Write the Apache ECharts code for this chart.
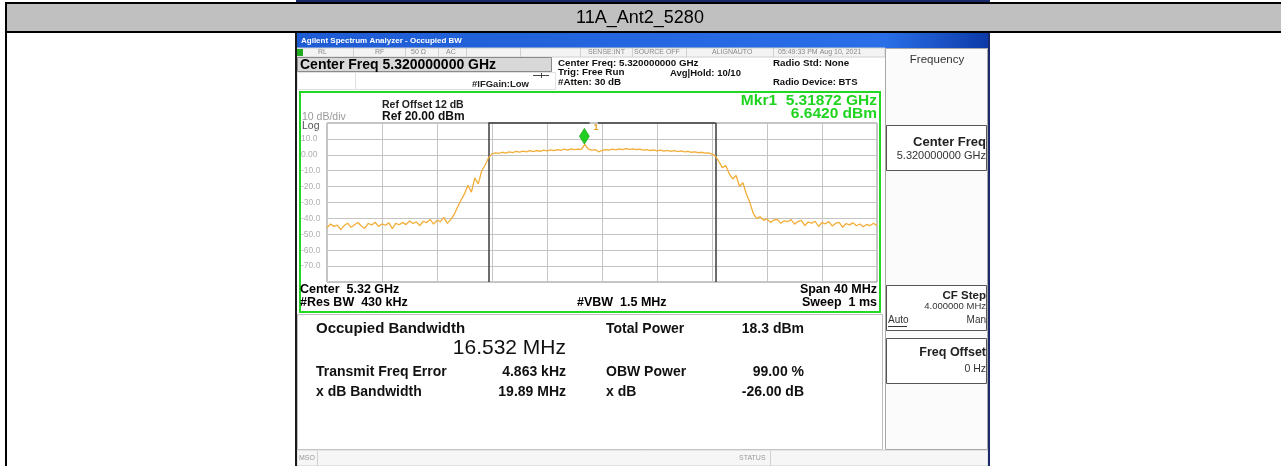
<!DOCTYPE html>
<html><head><meta charset="utf-8">
<script src="https://cdn.jsdelivr.net/npm/echarts@6/dist/echarts.min.js"></script>
<style>html,body{margin:0;padding:0;background:#fff}#c{width:1281px;height:466px}</style>
</head><body><div id="c"></div>
<script>
// ---------- data ----------
const pageTitle = '11A_Ant2_5280';
const sweepStartMHz = 5300;
const sweepStopMHz = 5340;
const sweepStepMHz = 0.25;
const gridStepMHz = 4;
const refLevelDbm = 20;
const bottomLevelDbm = -80;
const dbPerDiv = 10;
// trace, one value per 0.25 MHz (rows of 2 MHz)
const traceDbm = [
  -46.0,-43.5,-45.0,-44.2,-47.1,-44.5,-43.0,-45.6,
  -44.0,-42.6,-44.8,-46.3,-43.2,-44.1,-42.4,-45.0,
  -43.5,-44.3,-42.8,-46.5,-43.1,-44.0,-42.5,-43.9,
  -41.6,-43.2,-42.2,-44.6,-41.8,-42.7,-40.6,-43.6,
  -41.3,-42.0,-39.4,-43.1,-40.8,-37.5,-32.8,-28.4,
  -24.6,-19.2,-23.5,-14.6,-18.3,-10.2,-6.4,-1.8,
  0.6,1.2,0.9,1.6,1.1,1.9,1.4,2.1,
  1.7,2.3,1.8,2.6,2.0,2.7,2.2,2.9,
  2.4,3.1,2.6,3.3,2.8,3.5,3.0,3.7,
  3.2,3.6,3.4,6.6,3.5,2.9,3.3,1.9,
  2.7,3.2,2.9,3.5,3.1,3.7,3.3,3.9,
  3.4,3.7,3.2,3.6,3.0,3.3,2.7,3.1,
  2.5,2.9,2.3,2.8,2.2,2.6,2.0,2.4,
  1.8,2.2,1.6,1.9,1.3,1.6,1.0,1.2,
  0.4,-0.8,-4.2,-8.1,-6.8,-11.9,-15.2,-13.0,
  -19.8,-17.6,-24.7,-29.9,-36.8,-40.1,-38.9,-41.2,
  -40.3,-42.5,-41.0,-40.6,-43.1,-41.5,-42.1,-40.8,
  -43.6,-42.0,-41.3,-44.5,-42.3,-43.0,-41.8,-45.1,
  -42.6,-43.4,-42.0,-44.8,-43.0,-42.5,-45.6,-43.2,
  -44.1,-42.8,-44.6,-43.5,-45.3,-43.8,-44.5,-43.0,
  -44.6
];
const obwEdgesMHz = [5311.734, 5328.266];
const obwTopGapMHz = [5319.1, 5319.7];
const markerFreqMHz = 5318.72;
const markerLevelDbm = 6.642;

const headerTexts = {
  window: 'Agilent Spectrum Analyzer - Occupied BW',
  status: ['RL','RF','50 Ω','AC','SENSE:INT','SOURCE OFF','ALIGNAUTO','05:49:33 PM Aug 10, 2021'],
  activeFn: 'Center Freq 5.320000000 GHz',
  ifGain: '#IFGain:Low',
  col1: ['Center Freq: 5.320000000 GHz','Trig: Free Run','#Atten: 30 dB'],
  avgHold: 'Avg|Hold: 10/10',
  radio: ['Radio Std: None','Radio Device: BTS']
};
const plotTexts = {
  refOffset: 'Ref Offset 12 dB', ref: 'Ref 20.00 dBm', scale: '10 dB/div', log: 'Log',
  mkr1: 'Mkr1  5.31872 GHz', mkr2: '6.6420 dBm',
  center: 'Center  5.32 GHz', rbw: '#Res BW  430 kHz', vbw: '#VBW  1.5 MHz',
  span: 'Span 40 MHz', sweep: 'Sweep  1 ms'
};
const resultLabels = ['Occupied Bandwidth','Total Power','Transmit Freq Error','OBW Power','x dB Bandwidth','x dB'];
const resultValues = ['16.532 MHz','18.3 dBm','4.863 kHz','99.00 %','19.89 MHz','-26.00 dB'];
const softKeys = {
  title: 'Frequency',
  k1: ['Center Freq','5.320000000 GHz'],
  k2: ['CF Step','4.000000 MHz','Auto','Man'],
  k3: ['Freq Offset','0 Hz']
};

// ---------- drawing ----------
const chart = echarts.init(document.getElementById('c'), null, {renderer:'canvas', width:1281, height:466});
const FONT = '"Liberation Sans", Arial, Helvetica, sans-serif';
const G = [];
function rect(x,y,w,h,fill,stroke,lw,z){G.push({type:'rect',silent:true,z:(z===undefined?-5:z),shape:{x:x,y:y,width:w,height:h},style:{fill:fill||'transparent',stroke:stroke||'transparent',lineWidth:lw||1}});}
function line(x1,y1,x2,y2,stroke,lw,z){G.push({type:'line',silent:true,z:(z===undefined?-4:z),shape:{x1:x1,y1:y1,x2:x2,y2:y2},style:{stroke:stroke,lineWidth:lw||1}});}
function text(t,x,y,size,o){o=o||{};G.push({type:'text',silent:true,z:50,style:{text:t,x:x,y:y,font:(o.bold?'bold ':'')+size+'px '+FONT,fill:o.color||'#000',textAlign:o.align||'left',textVerticalAlign:'middle'}});}

// page table frame
rect(0,0,1281,466,'#ffffff',null,1,-10);
rect(296,0,694,2,'#1b2a6b');
rect(5,2,1276,2,'#000');
rect(7,4,1274,27,'#c0c0c0');
rect(5,31,1276,2,'#000');
rect(5,2,2,464,'#000');
text(pageTitle,640,18,18,{align:'center'});

// screenshot window
rect(296,33,694,433,'#ffffff');
rect(295,33,2,433,'#1a1a1a',null,1,-3);
rect(988,33,2,433,'#1b2a6b',null,1,-3);
rect(297,33,691,15,new echarts.graphic.LinearGradient(0,0,1,0,[{offset:0,color:'#1d5bd4'},{offset:0.85,color:'#2a6fe8'},{offset:1,color:'#0d3aa8'}]));
text(headerTexts.window,301,41,8,{bold:true,color:'#ffffff'});
// status row
rect(297,48,588,9,'#f3f3f3','#d0d0d0',1);
rect(297,49,6,7,'#22aa22');
const stX = [318,375,411,446,588,634,712,778];
headerTexts.status.forEach((s,i)=>text(s,stX[i],52.5,7,{color:'#8a8a8a'}));
[353,405,438,466,520,580,632,686,773].forEach(x=>line(x+0.5,48,x+0.5,57,'#d0d0d0',1));
// active function box
rect(297.5,57.5,254,14,'#d8d8d8','#8a8a8a',1);
text(headerTexts.activeFn,300,65,14,{bold:true});
rect(297.5,72.5,258,17,'transparent','#e0e0e0',1);
line(355.5,72,355.5,90,'#e0e0e0',1);
line(533,75.5,549,75.5,'#444',1); line(541.5,73,541.5,78,'#444',1);
text(headerTexts.ifGain,472,84,9.5,{bold:true,color:'#222'});
text(headerTexts.col1[0],558,63,9.8,{bold:true,color:'#111'});
text(headerTexts.col1[1],558,72.7,9.8,{bold:true,color:'#111'});
text(headerTexts.col1[2],558,82.7,9.8,{bold:true,color:'#111'});
text(headerTexts.avgHold,670,73,9.5,{bold:true,color:'#111'});
text(headerTexts.radio[0],773,63,9.8,{bold:true,color:'#111'});
text(headerTexts.radio[1],773,82.7,9.5,{bold:true,color:'#111'});

// green measurement box
rect(300,92,580,220,'transparent','#22d822',2,-3);
text(plotTexts.refOffset,382,105,10.5,{bold:true,color:'#222'});
text(plotTexts.ref,382,116.5,12,{bold:true,color:'#111'});
text(plotTexts.scale,302,117,10.5,{color:'#9a9a9a'});
text(plotTexts.log,302,126,10.5,{color:'#555'});
text(plotTexts.mkr1,877,101,15.5,{bold:true,color:'#1fd41f',align:'right'});
text(plotTexts.mkr2,877,113.5,15.5,{bold:true,color:'#1fd41f',align:'right'});
text(plotTexts.center,300,290,12.5,{bold:true});
text(plotTexts.rbw,300,303,12.5,{bold:true});
text(plotTexts.vbw,577,303,12.5,{bold:true});
text(plotTexts.span,877,290,12.5,{bold:true,align:'right'});
text(plotTexts.sweep,877,303,12.5,{bold:true,align:'right'});

// results panel
rect(297.5,314.5,585,135,'#ffffff','#bdbdbd',1);
text(resultLabels[0],316,329,15,{bold:true,color:'#111'});
text(resultValues[0],566,348,21,{color:'#111',align:'right'});
text(resultLabels[1],606,329,14,{bold:true,color:'#111'});
text(resultValues[1],804,329,14,{bold:true,color:'#111',align:'right'});
text(resultLabels[2],316,372.5,14,{bold:true,color:'#111'});
text(resultValues[2],566,372.5,14,{bold:true,color:'#111',align:'right'});
text(resultLabels[3],606,372.5,14,{bold:true,color:'#111'});
text(resultValues[3],804,372.5,14,{bold:true,color:'#111',align:'right'});
text(resultLabels[4],316,392,14,{bold:true,color:'#111'});
text(resultValues[4],566,392,14,{bold:true,color:'#111',align:'right'});
text(resultLabels[5],606,392,14,{bold:true,color:'#111'});
text(resultValues[5],804,392,14,{bold:true,color:'#111',align:'right'});

// bottom status bar
rect(297,450,691,16,'#f6f6f6','#cfcfcf',1);
text('MSO',299,458,7,{color:'#999'});
line(317.5,451,317.5,466,'#cfcfcf',1);
text('STATUS',739,458,7,{color:'#999'});
line(770.5,451,770.5,466,'#cfcfcf',1);

// soft key panel
rect(885.5,48.5,102,401,'#fbfbfb','#a8a8a8',1);
text(softKeys.title,937,60,11.5,{color:'#333',align:'center'});
rect(886.5,125.5,100,45,'#ffffff','#555',1);
text(softKeys.k1[0],986,142,13,{bold:true,color:'#222',align:'right'});
text(softKeys.k1[1],986,156,11,{color:'#333',align:'right'});
rect(886.5,285.5,100,45,'#ffffff','#555',1);
text(softKeys.k2[0],986,296,11.5,{bold:true,color:'#222',align:'right'});
text(softKeys.k2[1],986,306,9.5,{color:'#333',align:'right'});
text(softKeys.k2[2],888,320.5,10,{color:'#333'});
line(888,326.5,907,326.5,'#333',1,40);
text(softKeys.k2[3],986,320.5,10,{color:'#333',align:'right'});
rect(886.5,338.5,100,45,'#ffffff','#555',1);
text(softKeys.k3[0],986,353,12.5,{bold:true,color:'#222',align:'right'});
text(softKeys.k3[1],986,369,10.5,{color:'#333',align:'right'});

const traceData = traceDbm.map((v,i)=>[sweepStartMHz + i*sweepStepMHz, v]);
const obwLine = {color:'#3c3c3c', width:1.5, type:'solid'};

chart.setOption({
  animation:false,
  backgroundColor:'#ffffff',
  graphic:{elements:G},
  grid:{left:327, top:123, width:550, height:159, show:true, borderColor:'#8c8c8c', borderWidth:1, backgroundColor:'transparent'},
  xAxis:{type:'value', min:sweepStartMHz, max:sweepStopMHz, interval:gridStepMHz,
    axisLine:{show:false}, axisTick:{show:false}, axisLabel:{show:false},
    splitLine:{show:true, lineStyle:{color:'#c4c4c4', width:1}}},
  yAxis:{type:'value', min:bottomLevelDbm, max:refLevelDbm, interval:dbPerDiv,
    axisLine:{show:false}, axisTick:{show:false},
    axisLabel:{show:true, align:'left', margin:26, fontSize:8.5, color:'#b0b0b0', fontFamily:FONT,
      formatter:v=> (v===refLevelDbm||v===bottomLevelDbm)?'':(v===0?'0.00':v.toFixed(1))},
    splitLine:{show:true, lineStyle:{color:'#c4c4c4', width:1}}},
  series:[{
    type:'line', data:traceData, showSymbol:false, symbol:'none',
    lineStyle:{color:'#f2ae38', width:1.3}, z:5,
    markLine:{silent:true, symbol:'none', label:{show:false}, lineStyle:obwLine, animation:false,
      data:[
        [{coord:[obwEdgesMHz[0],bottomLevelDbm]},{coord:[obwEdgesMHz[0],refLevelDbm]}],
        [{coord:[obwEdgesMHz[1],bottomLevelDbm]},{coord:[obwEdgesMHz[1],refLevelDbm]}],
        [{coord:[obwEdgesMHz[0],refLevelDbm]},{coord:[obwTopGapMHz[0],refLevelDbm]}],
        [{coord:[obwTopGapMHz[1],refLevelDbm]},{coord:[obwEdgesMHz[1],refLevelDbm]}]
      ]},
    markPoint:{silent:true, animation:false, data:[{
      coord:[markerFreqMHz, markerLevelDbm], symbol:'diamond', symbolSize:[10,16], symbolOffset:[0,-8],
      itemStyle:{color:'#1fcf1f', borderColor:'#0d8f0d', borderWidth:0.5},
      label:{show:true, formatter:'1', position:'right', offset:[-1,-9], color:'#e0a020', fontSize:9, fontWeight:'bold'}
    }]}
  }]
});
</script>
</body></html>
